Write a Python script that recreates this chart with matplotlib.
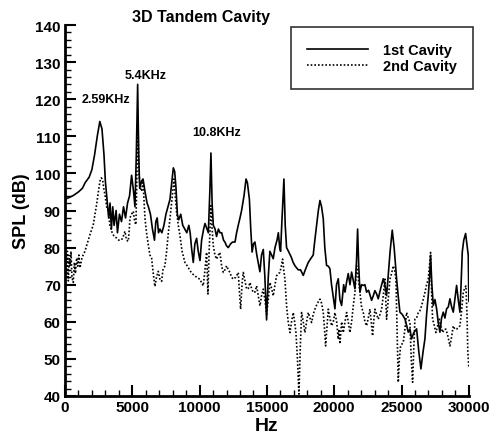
import matplotlib
matplotlib.use('Agg')
import matplotlib.pyplot as plt
from matplotlib.ticker import MultipleLocator

plt.rcParams['font.family'] = ['Liberation Sans', 'DejaVu Sans']
plt.rcParams['font.weight'] = 'bold'

# 1st cavity (solid)
hz_1 = [0, 300, 600, 1000, 1300, 1500, 1800, 2000, 2200, 2400, 2590, 2750, 2900, 3000,
        3100, 3250, 3350, 3450, 3550, 3650, 3800, 3900, 4050, 4200, 4350, 4500, 4650, 4800,
        4950, 5100, 5200, 5300, 5400, 5480, 5550, 5700, 5800, 5950, 6100, 6200, 6350, 6500,
        6650, 6750, 6850, 6950, 7050, 7200, 7350, 7500, 7650, 7800, 7950, 8050, 8150, 8250,
        8350, 8450, 8600, 8750, 8900, 9050, 9200, 9300, 9400, 9530, 9650, 9780, 9900, 10030,
        10150, 10300, 10400, 10550, 10650, 10760, 10843, 10930, 11020, 11150, 11260, 11400,
        11520, 11640, 11780, 11880, 12000, 12130, 12300, 12450, 12630, 12750, 12870, 13000,
        13120, 13300, 13450, 13550, 13700, 13800, 13900, 14000, 14110, 14250, 14400, 14480,
        14600, 14730, 14850, 14976, 15100, 15220, 15350, 15470, 15600, 15750, 15850, 15950,
        16016, 16100, 16263, 16360, 16460, 16600, 16800, 16950, 17100, 17330, 17500, 17700,
        17850, 18070, 18250, 18440, 18560, 18690, 18820, 18940, 19060, 19185, 19300, 19430,
        19560, 19680, 19800, 19920, 20052, 20170, 20300, 20420, 20548, 20700, 20800, 20919,
        21040, 21170, 21290, 21420, 21538, 21650, 21736, 21820, 21910, 22030, 22155, 22280,
        22402, 22550, 22774, 22900, 23021, 23150, 23269, 23450, 23640, 23760, 23888, 24000,
        24150, 24309, 24450, 24631, 24750, 24879, 25050, 25250, 25380, 25498, 25620, 25746,
        25900, 26117, 26280, 26439, 26600, 26736, 26860, 26984, 27080, 27157, 27250, 27355,
        27480, 27603, 27720, 27850, 27970, 28098, 28220, 28346, 28470, 28593, 28720, 28841,
        28960, 29088, 29210, 29336, 29420, 29509, 29620, 29757, 29850, 29955, 30000]
spl_1 = [93, 93.5, 94, 95, 96, 97.5, 99, 101, 105, 110, 114, 112, 105, 98,
         94, 88, 92, 85, 91, 86, 90, 84, 89, 87, 91, 88, 92, 94,
         99.5, 95, 91, 105, 124, 105, 96, 98, 98.5, 95, 92, 91, 89, 85,
         82, 87, 88, 84, 85, 84, 86, 89, 91, 93, 98, 101.5, 100.5, 96,
         89, 87.5, 89, 86, 85, 84, 86, 84, 80, 76, 81, 82.5, 79, 76.5,
         82, 85, 86.5, 85, 84, 95, 105.5, 92, 86, 85, 83, 85,
         84, 84, 82, 81.5, 80.5, 80, 81, 81.5, 81.5, 84, 86, 88,
         90, 94, 98.5, 97.5, 93, 85, 78.8, 81, 81.5, 78, 75, 73.5,
         78, 79.5, 72, 60.5, 72, 79, 78, 77, 80, 82, 84, 80,
         79, 86, 98.5, 86, 80, 79, 77.5, 76, 75, 74, 74, 72.5,
         74, 76, 77, 78, 82, 86, 90, 92.7, 91, 87.8, 80, 75.2,
         75, 74.3, 70, 67, 63.5, 70, 71.6, 66, 64.4, 70, 68, 70.7,
         73, 70, 73.4, 71, 68.9, 76, 85, 75, 68, 70, 69.8, 70,
         68, 68.5, 65.8, 67, 68.4, 67.5, 66.2, 69, 71.6, 70, 67.1, 72,
         79, 84.7, 80, 71.6, 67, 62.6, 62, 60.8, 59, 57.2, 58, 55.4,
         57, 58.1, 52, 47.3, 52, 55.4, 62, 67.1, 72, 77.9, 70, 64.4,
         66, 63.5, 60, 57.2, 61, 62.6, 61, 63.5, 64, 66.2, 64, 62.6,
         66, 69.8, 66, 62.6, 70, 78.8, 82, 83.8, 81, 77.9, 65.5]

# 2nd cavity (dotted)
hz_2 = [0, 60, 120, 180, 250, 320, 371, 450, 520, 619, 700, 780, 866, 950, 1030, 1114,
        1250, 1350, 1485, 1650, 1857, 2000, 2104, 2230, 2351, 2480, 2599, 2700, 2797, 2880,
        2970, 3100, 3218, 3340, 3465, 3650, 3837, 4000, 4208, 4330, 4456, 4580, 4703, 4780,
        4827, 4950, 5075, 5180, 5273, 5350, 5420, 5500, 5600, 5693, 5800, 5941, 6060, 6188,
        6310, 6435, 6560, 6683, 6800, 6930, 7055, 7178, 7280, 7426, 7550, 7680, 7797, 7950,
        8095, 8190, 8293, 8420, 8541, 8700, 8912, 9100, 9284, 9450, 9655, 9850, 10027, 10150,
        10274, 10400, 10522, 10620, 10700, 10843, 10930, 11017, 11140, 11264, 11390, 11512,
        11640, 11760, 11880, 12007, 12130, 12255, 12380, 12502, 12690, 12873, 12960, 13047,
        13150, 13245, 13370, 13493, 13620, 13740, 13860, 13988, 14110, 14235, 14360, 14483,
        14600, 14730, 14850, 14976, 15100, 15223, 15350, 15471, 15600, 15719, 15850, 15966,
        16070, 16164, 16250, 16337, 16461, 16580, 16709, 16830, 16957, 17060, 17155, 17270,
        17377, 17470, 17575, 17700, 17823, 17950, 18071, 18200, 18318, 18440, 18566, 18750,
        18938, 19060, 19185, 19280, 19359, 19450, 19557, 19680, 19805, 19930, 20052, 20180,
        20300, 20360, 20424, 20550, 20672, 20800, 20919, 21040, 21167, 21290, 21414, 21540,
        21662, 21780, 21910, 22030, 22155, 22280, 22402, 22530, 22650, 22750, 22848, 22930,
        23021, 23150, 23269, 23400, 23516, 23640, 23764, 23830, 23888, 24010, 24136, 24260,
        24384, 24480, 24582, 24670, 24755, 24840, 24928, 25030, 25126, 25250, 25374, 25500,
        25622, 25720, 25820, 25900, 25993, 26117, 26241, 26365, 26489, 26610, 26736, 26860,
        26984, 27070, 27157, 27230, 27306, 27430, 27553, 27680, 27801, 27920, 28048, 28170,
        28296, 28450, 28593, 28720, 28841, 28960, 29088, 29210, 29336, 29460, 29584, 29680,
        29782, 29860, 29920, 30000]
spl_2 = [70, 78, 72, 79, 71, 77, 75, 79, 72, 70.6, 76, 73, 77.2, 75, 78, 74.5,
         77, 78, 79, 81, 83.5, 85, 86.2, 89, 91.6, 95, 97.9, 98.8, 98.3, 96,
         94.3, 91, 89.8, 86, 84.4, 83, 82.6, 82, 82.1, 83, 84.4, 82, 81.7, 85,
         88, 89, 89.8, 87, 86.2, 100, 114, 100, 96, 95.2, 98, 88, 84, 80.8,
         78, 77.2, 73, 69.5, 72, 73.6, 71.5, 70.9, 74, 75.1, 79, 84, 87.7, 93,
         98.5, 94, 89.5, 86, 83.2, 79, 76, 75, 73.8, 73, 72.4, 71.8, 71.5, 70.5,
         69.7, 74, 78.7, 67.5, 78, 91.3, 85, 80.5, 78, 76.9, 78, 78.7,
         75, 73.3, 74, 75.1, 74, 73.3, 72, 71.5, 72, 73.3, 68, 63.4,
         70, 73.3, 71, 68.8, 69, 70.6, 69, 67.9, 68, 69.7, 67, 64.3,
         67, 68.8, 66, 62, 66, 70.6, 69, 67, 70, 72.4, 73, 73.3,
         75, 76.9, 74, 71.5, 64.3, 60, 57.1, 60, 62.5, 60, 57.1, 50,
         40.5, 52, 62.5, 60, 57.1, 60, 62.5, 61, 59.8, 62, 63.4, 65,
         66.1, 65, 62.5, 58, 53.5, 58, 63.4, 61, 58.9, 60, 62.5, 60,
         55.3, 58, 54, 60, 57.1, 60, 62.5, 60, 57.1, 60, 64.3, 68,
         75.1, 72, 67.9, 64, 62.5, 60, 58.9, 61, 63.4, 60, 56.2, 60,
         63.4, 62, 60.7, 62, 63.4, 67, 71.5, 66, 60.7, 66, 71.5, 73,
         75.1, 74, 71.5, 58, 43.7, 50, 53.5, 54, 54.4, 58, 62.5, 61,
         59.8, 50, 43.7, 52, 60.7, 61, 62.5, 63, 64.3, 66, 67.9, 70,
         71.5, 75, 78.7, 68, 60.7, 59, 57.1, 59, 60.7, 59, 57.1, 58,
         58, 56, 53.5, 56, 58.9, 58, 58, 58.5, 58.9, 63, 67.9, 69,
         69.7, 62, 52, 47.5]

peak_labels = ['2.59KHz', '5.4KHz', '10.8KHz']
peak_label_x = [3050, 6000, 11250]
peak_label_y = [120, 126.5, 111.2]

fig = plt.figure(figsize=(4.92, 4.39), dpi=100)
ax = fig.add_axes([0.132, 0.0957, 0.821, 0.845])

ax.plot(hz_1, spl_1, color='black', linewidth=1.2, label='1st Cavity')
ax.plot(hz_2, spl_2, color='black', linewidth=1.2, linestyle=(0, (1, 1.2)), label='2nd Cavity')

for lab, x, y in zip(peak_labels, peak_label_x, peak_label_y):
    ax.text(x, y, lab, fontsize=9, fontweight='bold', ha='center', va='center')

ax.set_xlim(0, 30000)
ax.set_ylim(40, 140)
ax.xaxis.set_major_locator(MultipleLocator(5000))
ax.xaxis.set_minor_locator(MultipleLocator(1000))
ax.yaxis.set_major_locator(MultipleLocator(10))
ax.yaxis.set_minor_locator(MultipleLocator(2))
ax.tick_params(which='major', direction='in', length=8, width=1.5, labelsize=11, pad=3)
ax.tick_params(which='minor', direction='in', length=4, width=1)
for lab in ax.get_xticklabels() + ax.get_yticklabels():
    lab.set_fontweight('bold')

ax.spines['top'].set_visible(False)
ax.spines['right'].set_visible(False)
ax.spines['left'].set_linewidth(2)
ax.spines['bottom'].set_linewidth(2)

ax.set_xlabel('Hz', fontsize=14, fontweight='bold', labelpad=2)
ax.set_ylabel('SPL (dB)', fontsize=13, fontweight='bold', labelpad=4)
fig.text(0.409, 0.961, '3D Tandem Cavity', fontsize=11.5, fontweight='bold',
         ha='center', va='center')

leg = ax.legend(loc='upper right', bbox_to_anchor=(0.961, 0.936),
                bbox_transform=fig.transFigure, fontsize=10.5, frameon=True,
                fancybox=False, handlelength=4.2, handletextpad=1.0,
                borderpad=1.1, labelspacing=0.15, borderaxespad=0)
leg.get_frame().set_edgecolor('black')
leg.get_frame().set_linewidth(1.2)
for t in leg.get_texts():
    t.set_fontweight('bold')

fig.savefig('out.png', dpi=100)
